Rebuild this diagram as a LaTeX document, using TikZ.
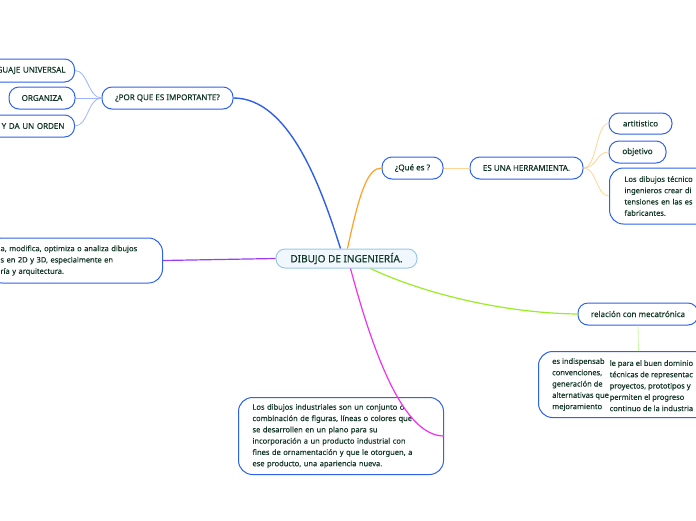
\documentclass[tikz,border=0pt]{standalone}
\usepackage{fontspec}
\setmainfont{Noto Sans}[FakeBold=0.25]
\usetikzlibrary{positioning}
\definecolor{ink}{HTML}{113626}
\definecolor{edge}{HTML}{2F62F0}
\definecolor{rootfill}{HTML}{F1F8FD}
\definecolor{rootedge}{HTML}{9BC8E6}
\definecolor{blueline}{HTML}{2F5FE8}
\definecolor{bluesoft}{HTML}{9DB6FF}
\definecolor{orangeline}{HTML}{FFA023}
\definecolor{orangesoft}{HTML}{FFD494}
\definecolor{limeline}{HTML}{99EE22}
\definecolor{limesoft}{HTML}{CDF5A5}
\definecolor{violetline}{HTML}{9B3BF2}
\definecolor{pinkline}{HTML}{F032F0}
\tikzset{
  topic/.style={draw=edge, line width=1pt, fill=white, rounded corners=10pt, text=ink,
    font=\fontsize{8}{9.5}\selectfont\bfseries, inner xsep=12pt, minimum height=22pt},
  note/.style={topic, align=left, font=\fontsize{7.5}{11.3}\selectfont\bfseries, inner xsep=14pt,
    inner ysep=5pt, rounded corners=14pt},
  notetext/.style={text=ink, align=left, font=\fontsize{7.5}{11.3}\selectfont\bfseries, inner sep=0pt},
  root/.style={draw=rootedge, line width=1pt, fill=rootfill, rounded corners=9pt, text=ink,
    font=\fontsize{10}{12}\selectfont\bfseries, minimum height=19pt},
}

\begin{document}
\begin{tikzpicture}[x=1pt, y=-1pt]
\useasboundingbox (0,0) rectangle (696,520);
\clip (0,0) rectangle (696,520);
% centre
\node[root, minimum width=141pt] (root) at (346.5,258.5) {DIBUJO DE INGENIERÍA.};
%
% why branch
\node[topic, minimum width=131pt] (why) at (167.5,98) {¿POR QUE ES IMPORTANTE?};
\node[topic, anchor=east, text width=80pt, align=right, inner xsep=9pt, minimum height=23pt] (lang) at (75,70.5) {GUAJE UNIVERSAL};
\node[topic, minimum width=66pt] (org) at (42,98) {ORGANIZA};
\node[topic, anchor=east, text width=80pt, align=right, inner xsep=10pt] (order) at (75,126) {Y DA UN ORDEN};
%
% definition on the left
\node[note, anchor=east, text width=150pt, inner xsep=12pt, minimum height=45pt] (define) at (163,260.5)
  {a, modifica, optimiza o analiza dibujos\\s en 2D y 3D, especialmente en\\ría y arquitectura.};
%
% what branch
\node[topic, minimum width=61pt] (what) at (412.5,168) {¿Qué es ?};
\node[topic, minimum width=113pt] (tool) at (526.5,168) {ES UNA HERRAMIENTA.};
\node[topic, minimum width=63pt, minimum height=21pt] (art) at (640.5,123.5) {artitistico};
\node[topic, minimum width=57pt] (obj) at (637.5,152) {objetivo};
\node[note, anchor=west, text width=110pt, inner xsep=15pt, minimum height=56pt] (tech) at (609,196)
  {Los dibujos técnico\\ingenieros crear di\\tensiones en las es\\fabricantes.};
%
% mechatronics branch
\node[topic, minimum width=120pt] (meca) at (638,314) {relación con mecatrónica};
\node[note, anchor=north west, minimum width=200pt, minimum height=66pt] (mecadef) at (538,351) {};
\node[notetext, anchor=north west] (mecaleft) at (552,358)
  {es indispensab\\convenciones,\\generación de\\alternativas que\\mejoramiento};
\node[notetext, anchor=north west] (mecaright) at (609.5,360)
  {le para el buen dominio\\técnicas de representac\\proyectos, prototipos y\\permiten el progreso\\continuo de la industria};
%
% industrial drawings
\node[note, anchor=north west, text width=177pt, minimum height=77pt] (ind) at (238,397)
  {Los dibujos industriales son un conjunto o\\combinación de figuras, líneas o colores que\\se desarrollen en un plano para su\\incorporación a un producto industrial con\\fines de ornamentación y que le otorguen, a\\ese producto, una apariencia nueva.};
%
% connectors
\draw[blueline, line width=1.4pt] ([xshift=-6pt]root.north) .. controls (322,190) and (290,98) .. (why.east);
\draw[orangeline, line width=1.2pt] ([xshift=1pt]root.north) .. controls (360,190) and (368,168) .. (what.west);
\draw[limeline, line width=1.2pt] ([xshift=24pt]root.south) .. controls (420,292) and (500,313) .. (meca.west);
\draw[pinkline, line width=1.2pt] ([xshift=4pt]root.south) .. controls (375,360) and (405,436) .. (ind.east);
\draw[violetline, line width=1.2pt] (root.west) -- (define.east);
%
\draw[bluesoft, line width=0.8pt] (why.west) .. controls (88,98) and (88,70.5) .. (lang.east);
\draw[bluesoft, line width=0.8pt] (why.west) -- (org.east);
\draw[bluesoft, line width=0.8pt] (why.west) .. controls (88,98) and (88,126) .. (order.east);
\draw[orangesoft, line width=0.8pt] (what.east) -- (tool.west);
\draw[orangesoft, line width=0.8pt] (tool.east) .. controls (597,168) and (596,123.5) .. (art.west);
\draw[orangesoft, line width=0.8pt] (tool.east) .. controls (597,168) and (596,152) .. (obj.west);
\draw[orangesoft, line width=0.8pt] (tool.east) .. controls (597,168) and (596,196) .. (tech.west);
\draw[limesoft, line width=0.8pt] (meca.south) -- (mecadef.north);
\end{tikzpicture}
\end{document}
